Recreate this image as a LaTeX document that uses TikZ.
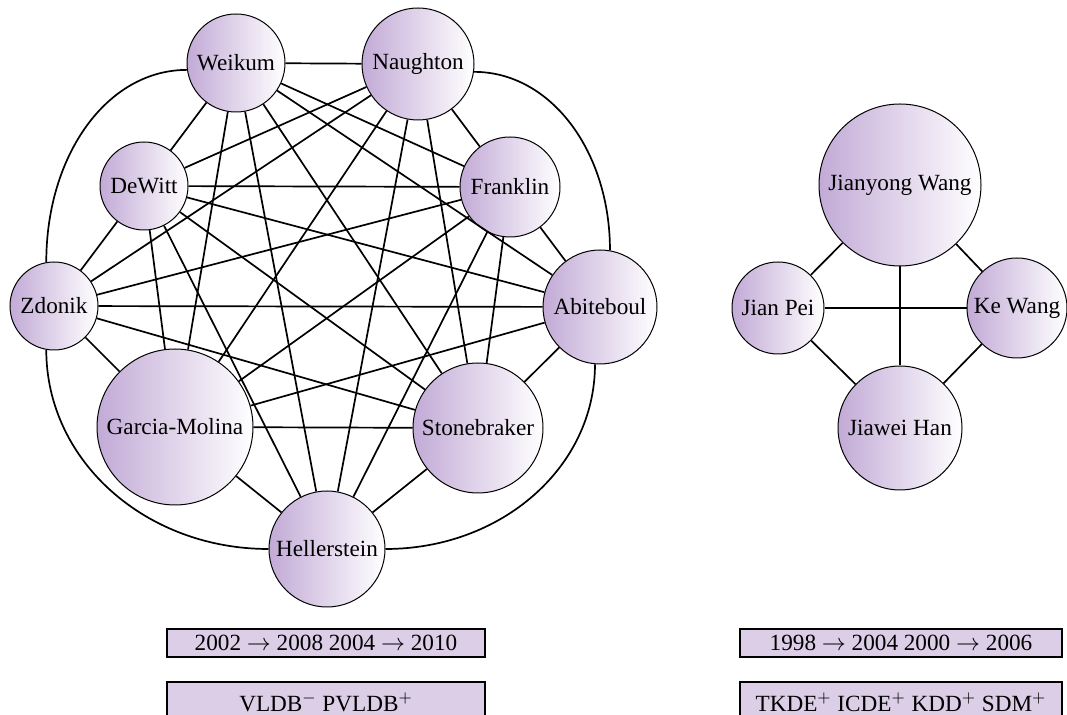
\documentclass[tikz,border=0pt]{standalone}
\usepackage{fontspec}
\setmainfont{Liberation Serif}
\newcommand\labelfont{\fontsize{11.6}{13.9}\selectfont}
\definecolor{authorpurple}{RGB}{194,170,214}
\definecolor{tagpurple}{RGB}{221,206,232}
\begin{document}
\begin{tikzpicture}[x=0.5pt,y=-0.5pt,
  person/.style={circle, draw=black, line width=0.5pt, left color=authorpurple,
    right color=white, inner sep=0pt, minimum size=#1, font=\labelfont},
  link/.style={line width=0.85pt},
  tag/.style={draw=black, line width=0.55pt, fill=tagpurple, inner sep=0pt,
    minimum width=#1, font=\labelfont}]
\useasboundingbox (0,0) rectangle (1067,715);
\clip (0,0) rectangle (1067,715);

% database community
\node[person=49pt] (W) at (236,63)  {Weikum};
\node[person=56pt] (N) at (418,64)  {Naughton};
\node[person=44pt] (D) at (144,186) {DeWitt};
\node[person=50pt] (F) at (510,187) {Franklin};
\node[person=44pt] (Z) at (54,306)  {Zdonik};
\node[person=57pt] (A) at (600,307) {Abiteboul};
\node[person=78pt] (G) at (175,427) {Garcia-Molina};
\node[person=65pt] (S) at (478,428) {Stonebraker};
\node[person=58pt] (H) at (327,549) {Hellerstein};

\foreach \a/\b in {W/N,W/D,W/F,W/A,W/G,W/S,W/H,
                   N/D,N/F,N/Z,N/G,N/S,N/H,
                   D/F,D/Z,D/A,D/G,D/S,D/H,
                   F/Z,F/A,F/G,F/S,F/H,
                   Z/A,Z/G,Z/S,
                   A/G,A/S,
                   G/S,G/H,
                   S/H}
  \draw[link] (\a) -- (\b);

% outer ties routed around the ring
\draw[link] (W.188) .. controls +(-80,0) and +(0,-107) .. (Z.100);
\draw[link] (Z.260) .. controls +(0,111) and +(-123,0) .. (H.west);
\draw[link] (N.352) .. controls +(77,0) and +(0,-99) .. (A.80);
\draw[link] (A.265) .. controls +(0,103) and +(116,0) .. (H.east);

% data mining community
\node[person=81pt] (JW) at (900,185)  {Jianyong Wang};
\node[person=46pt] (JP) at (778,308)  {Jian Pei};
\node[person=50pt] (KW) at (1017,308) {Ke Wang};
\node[person=62pt] (JH) at (900,428)  {Jiawei Han};

\foreach \a/\b in {JW/JP,JW/KW,JW/JH,JP/KW,JP/JH,KW/JH}
  \draw[link] (\a) -- (\b);

% period and venue tags
\node[tag=159pt, minimum height=14pt] (p1) at (326,643)
  {2002 $\rightarrow$ 2008 2004 $\rightarrow$ 2010};
\node[tag=159pt, minimum height=20pt] (v1) at (326,702)
  {VLDB$^{-}$ PVLDB$^{+}$};
\node[tag=161pt, minimum height=14pt] (p2) at (901,643)
  {1998 $\rightarrow$ 2004 2000 $\rightarrow$ 2006};
\node[tag=161pt, minimum height=20pt] (v2) at (901,702)
  {TKDE$^{+}$ ICDE$^{+}$ KDD$^{+}$ SDM$^{+}$};
\end{tikzpicture}
\end{document}
